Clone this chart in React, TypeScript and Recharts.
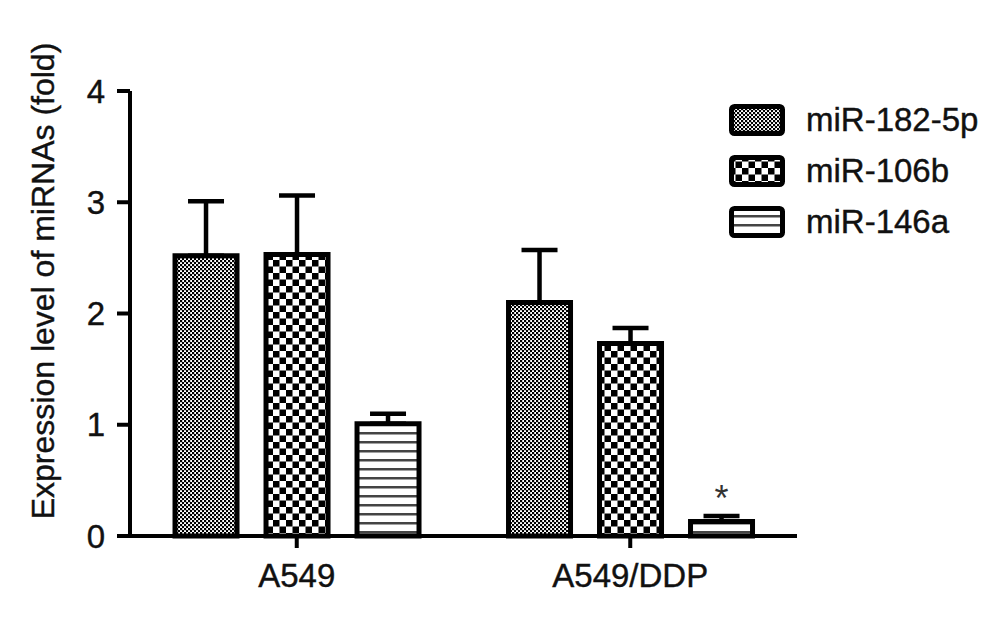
import React from 'react';
import { BarChart, Bar, XAxis, YAxis, ErrorBar, Legend, LabelList } from 'recharts';

const categories = ['A549', 'A549/DDP'];
const mir182 = [2.52, 2.1];
const mir182Err = [0.49, 0.47];
const mir106b = [2.53, 1.73];
const mir106bErr = [0.53, 0.14];
const mir146a = [1.01, 0.13];
const mir146aErr = [0.09, 0.05];
const marks = ['', '*'];
const yTicks = [0, 1, 2, 3, 4];

const series = [
  { key: 'mir182', name: 'miR-182-5p', fill: 'url(#p182)' },
  { key: 'mir106b', name: 'miR-106b', fill: 'url(#p106)' },
  { key: 'mir146a', name: 'miR-146a', fill: 'url(#p146)' },
];

// only the upper whisker is drawn, like the original figure
const data = categories.map((c, i) => ({
  name: c,
  mir182: mir182[i],
  e182: [0, mir182Err[i]],
  mir106b: mir106b[i],
  e106: [0, mir106bErr[i]],
  mir146a: mir146a[i],
  e146: [0, mir146aErr[i]],
  sig: marks[i],
}));

const FONT = '"Liberation Sans", Arial, Helvetica, sans-serif';

const YLabel = () => (
  <text
    x={43}
    y={281}
    transform="rotate(-90 43 281)"
    textAnchor="middle"
    dominantBaseline="central"
    fontSize={32}
    fontFamily={FONT}
    fill="#111"
    stroke="#111"
    strokeWidth={0.4}
  >
    Expression level of miRNAs (fold)
  </text>
);

const renderLegend = () => (
  <div style={{ fontFamily: FONT }}>
    {series.map((s) => (
      <div key={s.key} style={{ display: 'flex', alignItems: 'center', height: 51 }}>
        <svg width={56} height={32} style={{ display: 'block' }}>
          <rect x={2.5} y={2.5} width={51} height={27} rx={3} fill={s.fill} stroke="#000" strokeWidth={5} />
        </svg>
        <span style={{ marginLeft: 21, fontSize: 33, color: '#111', lineHeight: '32px', WebkitTextStroke: '0.4px #111' }}>
          {s.name}
        </span>
      </div>
    ))}
  </div>
);

export default function App() {
  return (
    <div style={{ position: 'absolute', left: 0, top: 0, background: '#fff' }}>
      <BarChart
        width={1001}
        height={629}
        data={data}
        margin={{ top: 91, right: 204, bottom: 0, left: 0 }}
        barCategoryGap="13.5%"
        barGap={29}
      >
        <defs>
          <pattern id="p182" patternUnits="userSpaceOnUse" width={4} height={4}>
            <rect width={4} height={4} fill="#fff" />
            <rect x={0} y={0} width={2.2} height={2.2} fill="#000" />
            <rect x={2} y={2} width={2.2} height={2.2} fill="#000" />
          </pattern>
          <pattern id="p106" patternUnits="userSpaceOnUse" width={13} height={13}>
            <rect width={13} height={13} fill="#fff" />
            <rect x={0} y={0} width={6.5} height={6.5} fill="#000" />
            <rect x={6.5} y={6.5} width={6.5} height={6.5} fill="#000" />
          </pattern>
          <pattern id="p146" patternUnits="userSpaceOnUse" width={9} height={9}>
            <rect width={9} height={9} fill="#fff" />
            <rect x={0} y={0} width={9} height={2.5} fill="#444" />
          </pattern>
        </defs>
        <XAxis
          dataKey="name"
          height={93}
          axisLine={{ stroke: '#000', strokeWidth: 4 }}
          tickLine={{ stroke: '#000', strokeWidth: 4 }}
          tickSize={12}
          tickMargin={16}
          tick={{ fontSize: 33, fill: '#111', fontFamily: FONT, stroke: '#111', strokeWidth: 0.4 }}
        />
        <YAxis
          width={130}
          domain={[0, 4]}
          ticks={yTicks}
          axisLine={{ stroke: '#000', strokeWidth: 4 }}
          tickLine={{ stroke: '#000', strokeWidth: 4 }}
          tickSize={13}
          tickMargin={12}
          tick={{ fontSize: 33, fill: '#111', fontFamily: FONT, stroke: '#111', strokeWidth: 0.4 }}
          label={<YLabel />}
        />
        <Legend
          layout="vertical"
          align="center"
          verticalAlign="middle"
          content={renderLegend}
          wrapperStyle={{ left: 729, top: 94, width: 270 }}
        />
        <Bar dataKey="mir182" name="miR-182-5p" fill="url(#p182)" stroke="#000" strokeWidth={5} isAnimationActive={false}>
          <ErrorBar dataKey="e182" width={18} stroke="#000" strokeWidth={4.5} />
        </Bar>
        <Bar dataKey="mir106b" name="miR-106b" fill="url(#p106)" stroke="#000" strokeWidth={5} isAnimationActive={false}>
          <ErrorBar dataKey="e106" width={18} stroke="#000" strokeWidth={4.5} />
        </Bar>
        <Bar dataKey="mir146a" name="miR-146a" fill="url(#p146)" stroke="#000" strokeWidth={5} isAnimationActive={false}>
          <ErrorBar dataKey="e146" width={18} stroke="#000" strokeWidth={4.5} />
          <LabelList dataKey="sig" position="top" offset={11} fontSize={36} fill="#333" fontFamily={FONT} />
        </Bar>
      </BarChart>
    </div>
  );
}
